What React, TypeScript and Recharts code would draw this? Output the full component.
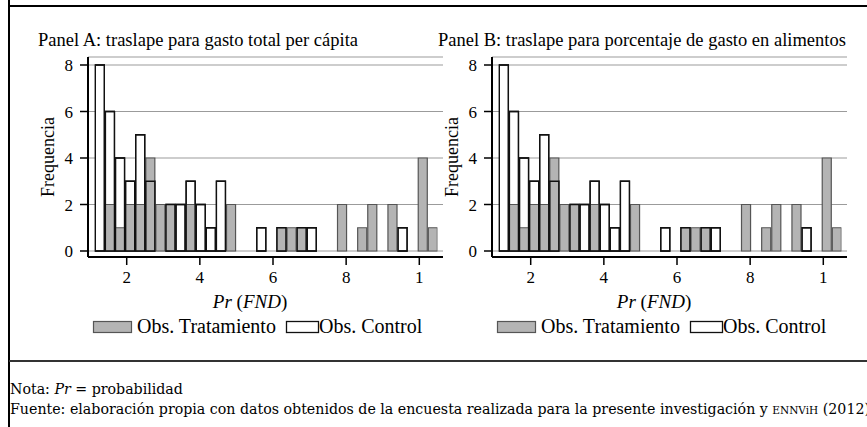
import { BarChart, Bar, XAxis, YAxis, CartesianGrid } from "recharts";

// bin centres of the histogram, Pr(FND)
const binCenters = [
  0.1252, 0.1528, 0.1804, 0.208, 0.2356, 0.2632, 0.2907, 0.3183, 0.3459, 0.3735,
  0.4011, 0.4287, 0.4563, 0.4839, 0.5115, 0.5391, 0.5666, 0.5942, 0.6218, 0.6494,
  0.677, 0.7046, 0.7322, 0.7598, 0.7874, 0.815, 0.8425, 0.8701, 0.8977, 0.9253,
  0.9529, 0.9805, 1.0081, 1.0357,
];
const tratamiento = [0, 2, 1, 2, 2, 4, 2, 2, 0, 2, 0, 0, 0, 2, 0, 0, 0, 0, 1, 1, 1, 0, 0, 0, 2, 0, 1, 2, 0, 2, 0, 0, 4, 1];
const control = [8, 6, 4, 3, 5, 3, 0, 2, 2, 3, 2, 1, 3, 0, 0, 0, 1, 0, 1, 0, 1, 1, 0, 0, 0, 0, 0, 0, 0, 0, 1, 0, 0, 0];

const xTicks = [0.2, 0.4, 0.6, 0.8, 1];
const xTickLabels = ["2", "4", "6", "8", "1"];
const yTicks = [0, 2, 4, 6, 8];

const panelTitles = [
  "Panel A: traslape para gasto total per cápita",
  "Panel B: traslape para porcentaje de gasto en alimentos",
];
const legendLabels = ["Obs. Tratamiento", "Obs. Control"];

const FONT = "'Liberation Serif', 'Times New Roman', serif";
const GREY = "#b4b4b4";
const xDomain = [0.1114, 1.0495];
const xPad = { left: 6.3, right: 5.6 };
const BAR_W = 10.09;

const data = binCenters.map((b, i) => ({ bin: b, tratamiento: tratamiento[i], control: control[i] }));

function Panel({ left }: { left: number }) {
  return (
    <div style={{ position: "absolute", left, top: 0 }}>
      <BarChart
        width={450}
        height={300}
        data={data}
        margin={{ top: 57, right: 7, bottom: 13, left: 48 }}
        barCategoryGap={0}
        barGap={0}
        style={{ fontFamily: FONT }}
      >
        <CartesianGrid xAxisId="c2" vertical={false} stroke="#9b9b9b" strokeWidth={1.2} />
        <XAxis
          xAxisId="c2"
          dataKey="bin"
          type="number"
          domain={xDomain}
          allowDataOverflow
          ticks={xTicks}
          tickFormatter={(v: number) => xTickLabels[xTicks.indexOf(v)] ?? ""}
          padding={xPad}
          height={30}
          tickSize={8}
          tickMargin={6}
          axisLine={{ stroke: "#000", strokeWidth: 2 }}
          tickLine={{ stroke: "#000", strokeWidth: 1.5 }}
          tick={{ fill: "#000", fontSize: 17, fontFamily: FONT }}
        />
        <XAxis xAxisId="c1" dataKey="bin" type="number" domain={xDomain} allowDataOverflow hide height={0} padding={xPad} />
        <XAxis xAxisId="c3" dataKey="bin" type="number" domain={xDomain} allowDataOverflow hide height={0} padding={xPad} />
        <YAxis
          domain={[0, 8]}
          ticks={yTicks}
          padding={{ top: 8, bottom: 6 }}
          width={40}
          tickSize={8}
          tickMargin={7}
          axisLine={{ stroke: "#000", strokeWidth: 2 }}
          tickLine={{ stroke: "#000", strokeWidth: 1.5 }}
          tick={{ fill: "#000", fontSize: 17, fontFamily: FONT }}
          label={{
            value: "Frequencia",
            angle: -90,
            position: "insideLeft",
            offset: 0,
            style: { textAnchor: "middle", fill: "#000", fontSize: 18, fontFamily: FONT },
          }}
        />
        <Bar xAxisId="c1" dataKey="control" barSize={BAR_W} fill="#fff" stroke="#111" strokeWidth={1.3} isAnimationActive={false} />
        <Bar xAxisId="c2" dataKey="tratamiento" barSize={BAR_W} fill={GREY} stroke="#555" strokeWidth={1.2} isAnimationActive={false} />
        <Bar xAxisId="c3" dataKey="control" barSize={BAR_W} fill="none" stroke="#111" strokeWidth={1.3} isAnimationActive={false} />
      </BarChart>
    </div>
  );
}

function Decor() {
  const offsets = [0, 404];
  return (
    <svg width={867} height={427} style={{ position: "absolute", left: 0, top: 0 }} fontFamily={FONT}>
      <line x1={9} y1={6} x2={867} y2={6} stroke="#000" strokeWidth={2} />
      <line x1={9} y1={0} x2={9} y2={427} stroke="#000" strokeWidth={2} />
      <line x1={9} y1={361} x2={867} y2={361} stroke="#333" strokeWidth={1.8} />
      <text x={38} y={46} fontSize={18.5}>{panelTitles[0]}</text>
      <text x={438} y={46} fontSize={18.5}>{panelTitles[1]}</text>
      {offsets.map((dx) => (
        <g key={dx}>
          <text x={250 + dx} y={308} fontSize={19} textAnchor="middle">
            <tspan fontStyle="italic">Pr</tspan> (<tspan fontStyle="italic">FND</tspan>)
          </text>
          <rect x={93.5 + dx} y={321.5} width={38} height={11} fill={GREY} stroke="#555" strokeWidth={1.2} />
          <text x={137 + dx} y={333} fontSize={20}>{legendLabels[0]}</text>
          <rect x={286.5 + dx} y={321.5} width={32} height={11} fill="#fff" stroke="#111" strokeWidth={1.3} />
          <text x={319 + dx} y={333} fontSize={20}>{legendLabels[1]}</text>
        </g>
      ))}
      <g fontFamily="'DejaVu Serif', serif" fontSize={14.2}>
        <text x={10} y={394}>
          Nota: <tspan fontStyle="italic">Pr</tspan> = probabilidad
        </text>
        <text x={10} y={414}>
          Fuente: elaboración propia con datos obtenidos de la encuesta realizada para la presente investigación y{" "}
          <tspan fontSize={10.5}>ENNViH</tspan> (2012)
        </text>
      </g>
    </svg>
  );
}

export default function App() {
  return (
    <div style={{ position: "absolute", left: 0, top: 0, width: 867, height: 427, background: "#fff", fontFamily: FONT }}>
      <Decor />
      <Panel left={0} />
      <Panel left={404} />
    </div>
  );
}
